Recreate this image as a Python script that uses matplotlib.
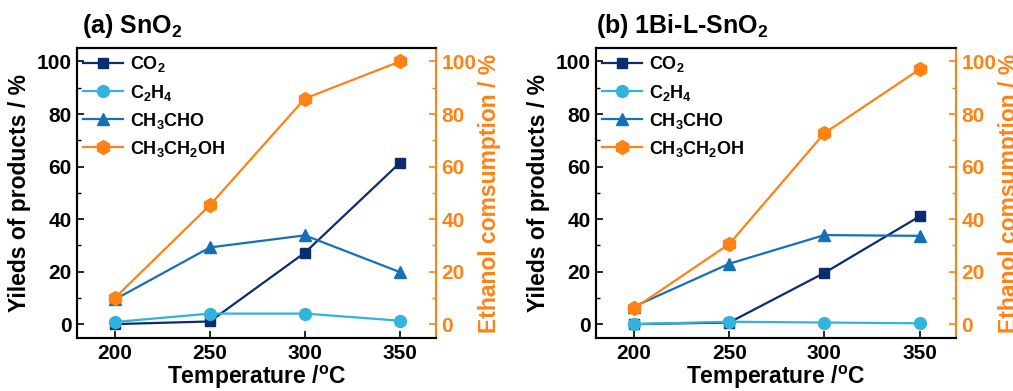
import matplotlib
matplotlib.use("Agg")
import matplotlib.pyplot as plt

plt.rcParams['font.family'] = ['Liberation Sans', 'DejaVu Sans']
plt.rcParams['font.weight'] = 'bold'
plt.rcParams['mathtext.fontset'] = 'custom'
plt.rcParams['mathtext.rm'] = 'Liberation Sans:bold'
plt.rcParams['mathtext.bf'] = 'Liberation Sans:bold'
plt.rcParams['mathtext.default'] = 'rm'

temperature = [200, 250, 300, 350]
x_ticks = [200, 250, 300, 350]

# Panel (a) SnO2
a_co2 = [0.0, 1.0, 27.2, 61.4]
a_c2h4 = [0.8, 4.0, 4.0, 1.3]
a_ch3cho = [9.4, 29.2, 33.8, 19.8]
a_ethanol = [10.0, 45.3, 85.9, 100.0]

# Panel (b) 1Bi-L-SnO2
b_co2 = [0.0, 0.6, 19.5, 41.0]
b_c2h4 = [0.0, 0.9, 0.6, 0.3]
b_ch3cho = [6.7, 23.0, 33.9, 33.6]
b_ethanol = [6.0, 30.5, 72.7, 97.0]

titles = ['(a) SnO$_2$', '(b) 1Bi-L-SnO$_2$']
series_labels = ['CO$_2$', 'C$_2$H$_4$', 'CH$_3$CHO', 'CH$_3$CH$_2$OH']

c_co2 = '#0b2d6e'
c_c2h4 = '#31b3db'
c_ch3cho = '#1670b8'
c_eth = '#ff8214'

fig = plt.figure(figsize=(10.13, 3.91), dpi=100)
positions = [[0.076, 0.1355, 0.3544, 0.7415], [0.5884, 0.1355, 0.355, 0.7415]]
data = [(a_co2, a_c2h4, a_ch3cho, a_ethanol), (b_co2, b_c2h4, b_ch3cho, b_ethanol)]
title_x = [0.015, 0.0]

for i in range(2):
    ax = fig.add_axes(positions[i])
    co2, c2h4, ch3cho, eth = data[i]
    l1, = ax.plot(temperature, co2, '-s', color=c_co2, lw=1.6, ms=7.5, label=series_labels[0])
    l3, = ax.plot(temperature, ch3cho, '-^', color=c_ch3cho, lw=1.6, ms=8.5, label=series_labels[2])
    l2, = ax.plot(temperature, c2h4, '-o', color=c_c2h4, lw=1.6, ms=8.5, label=series_labels[1])
    ax2 = ax.twinx()
    l4, = ax2.plot(temperature, eth, '-h', color=c_eth, lw=1.6, ms=10, label=series_labels[3])
    for a in (ax, ax2):
        a.set_ylim(-5.3, 105.1)
        a.set_xlim(180, 369)
        a.set_yticks([0, 20, 40, 60, 80, 100])
        a.set_yticks([10, 30, 50, 70, 90], minor=True)
    ax.set_xticks(x_ticks)
    ax.tick_params(axis='both', which='major', direction='in', length=5, width=1.2, labelsize=15, pad=4)
    ax.tick_params(axis='y', which='minor', direction='in', length=3, width=1.0)
    ax2.tick_params(axis='y', which='major', direction='in', length=5, width=1.2, labelsize=15,
                    colors=c_eth, pad=4)
    ax2.tick_params(axis='y', which='minor', direction='in', length=3, width=1.0, colors=c_eth)
    for lab in ax.get_xticklabels() + ax.get_yticklabels() + ax2.get_yticklabels():
        lab.set_fontweight('bold')
    for s in ['left', 'bottom', 'top']:
        ax2.spines[s].set_linewidth(1.5)
        ax.spines[s].set_linewidth(1.5)
    ax.spines['right'].set_visible(False)
    ax2.spines['right'].set_color(c_eth)
    ax2.spines['right'].set_linewidth(1.5)
    ax.set_xlabel('Temperature /$^\\mathrm{o}$C', fontsize=16.5, fontweight='bold', labelpad=1)
    ax.set_ylabel('Yileds of products / %', fontsize=16.5, fontweight='bold', labelpad=4)
    ax2.set_ylabel('Ethanol comsumption / %', fontsize=16.5, fontweight='bold', color=c_eth, labelpad=1)
    ax.text(title_x[i], 1.052, titles[i], transform=ax.transAxes, fontsize=18,
            fontweight='bold', va='baseline', ha='left')
    leg = ax2.legend([l1, l2, l3, l4], series_labels, loc='upper left', frameon=False,
                     fontsize=13, handlelength=2.2, labelspacing=0.45, borderaxespad=0.05,
                     handletextpad=0.4, borderpad=0.3)
    for t in leg.get_texts():
        t.set_fontweight('bold')

fig.savefig('out.png', dpi=100)
